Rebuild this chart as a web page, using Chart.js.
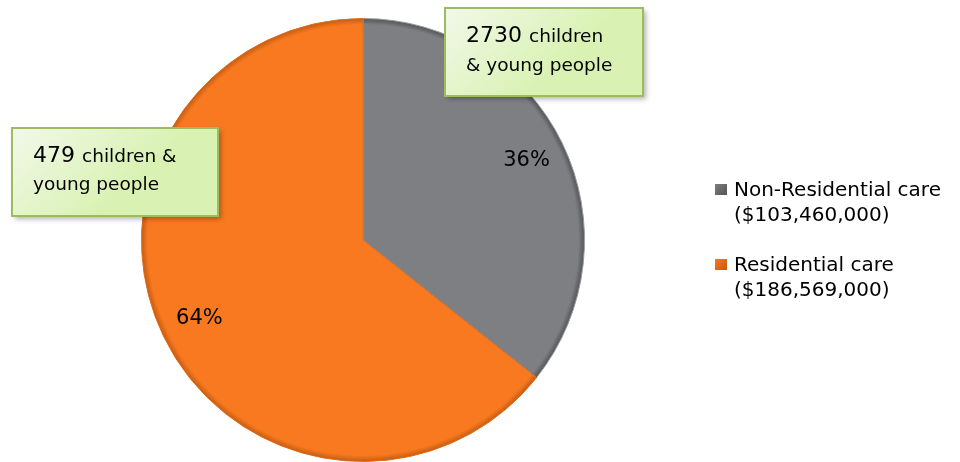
<!DOCTYPE html>
<html>
<head>
<meta charset="utf-8">
<script src="https://cdn.jsdelivr.net/npm/chart.js@4.4.0/dist/chart.umd.min.js"></script>
<style>
  html, body { margin: 0; padding: 0; background: #ffffff; }
  #wrap { width: 960px; height: 462px; }
</style>
</head>
<body>
<div id="wrap"><canvas id="c" width="960" height="462"></canvas></div>
<script>
// ---- data ----
const categories = ['Non-Residential care', 'Residential care'];
const amounts = [103460000, 186569000];
const amountLabels = ['($103,460,000)', '($186,569,000)'];
const childCounts = [2730, 479];
const calloutLines = [
  ['children', '& young people'],
  ['children &', 'young people']
];

// ---- style ----
const baseColors = ['#7e7f82', '#f8791f'];
const edgeColors = ['#505153', '#c05a12'];
const FONT = '"DejaVu Sans", Lato, sans-serif';

function sliceFill(ctx) {
  const chart = ctx.chart;
  const a = chart.chartArea;
  const i = ctx.dataIndex;
  if (!a) return baseColors[i];
  const cx = (a.left + a.right) / 2, cy = (a.top + a.bottom) / 2;
  const r = Math.min(a.right - a.left, a.bottom - a.top) / 2;
  const g = chart.ctx.createRadialGradient(cx, cy, 0, cx, cy, r);
  g.addColorStop(0, baseColors[i]);
  g.addColorStop(0.97, baseColors[i]);
  g.addColorStop(1, edgeColors[i]);
  return g;
}

// percentage labels on slices
const pctPlugin = {
  id: 'pct',
  afterDatasetsDraw(chart) {
    const ctx = chart.ctx;
    const meta = chart.getDatasetMeta(0);
    const data = chart.data.datasets[0].data;
    const total = data.reduce((s, v) => s + v, 0);
    ctx.save();
    ctx.font = '21px ' + FONT;
    ctx.fillStyle = '#000';
    ctx.textAlign = 'center';
    ctx.textBaseline = 'middle';
    meta.data.forEach((arc, i) => {
      const p = arc.getProps(['x', 'y', 'startAngle', 'endAngle', 'outerRadius'], true);
      const mid = (p.startAngle + p.endAngle) / 2;
      const rr = p.outerRadius * 0.82;
      const pct = Math.round(data[i] / total * 100) + '%';
      ctx.fillText(pct, p.x + Math.cos(mid) * rr, p.y + Math.sin(mid) * rr);
    });
    ctx.restore();
  }
};

// callout boxes
const calloutBoxes = [
  { x: 445, y: 8, w: 198, h: 88, tx: 466, b1: 42, b2: 71 },
  { x: 12, y: 128, w: 206, h: 88, tx: 33, b1: 162, b2: 190 }
];
const calloutPlugin = {
  id: 'callouts',
  afterDraw(chart) {
    const ctx = chart.ctx;
    calloutBoxes.forEach((b, i) => {
      ctx.save();
      ctx.shadowColor = 'rgba(0,0,0,0.3)';
      ctx.shadowBlur = 5;
      ctx.shadowOffsetX = 3;
      ctx.shadowOffsetY = 3;
      const g = ctx.createLinearGradient(b.x, b.y, b.x + b.w * 0.4, b.y + b.h);
      g.addColorStop(0, '#f2f8ea');
      g.addColorStop(1, '#d9f2b3');
      ctx.fillStyle = g;
      ctx.fillRect(b.x, b.y, b.w, b.h);
      ctx.restore();
      ctx.save();
      ctx.strokeStyle = '#9cbd5e';
      ctx.lineWidth = 2;
      ctx.strokeRect(b.x, b.y, b.w, b.h);
      ctx.fillStyle = '#000';
      ctx.textBaseline = 'alphabetic';
      ctx.textAlign = 'left';
      ctx.font = '22px ' + FONT;
      const num = String(childCounts[i]);
      ctx.fillText(num, b.tx, b.b1);
      const w = ctx.measureText(num + ' ').width;
      ctx.font = '18.5px ' + FONT;
      ctx.fillText(calloutLines[i][0], b.tx + w, b.b1);
      ctx.fillText(calloutLines[i][1], b.tx, b.b2);
      ctx.restore();
    });
  }
};

// legend
const legendPlugin = {
  id: 'customLegend',
  afterDraw(chart) {
    const ctx = chart.ctx;
    const x0 = 715, boxSize = 12, tx = 734;
    const rows = [196, 271];
    chart.data.labels.forEach((lab, i) => {
      const base = rows[i];
      ctx.save();
      const g = ctx.createLinearGradient(x0, base - 12, x0 + boxSize, base);
      g.addColorStop(0, baseColors[i]);
      g.addColorStop(1, edgeColors[i]);
      ctx.fillStyle = g;
      ctx.fillRect(x0, base - 12, boxSize, 11);
      ctx.fillStyle = '#000';
      ctx.font = '20px ' + FONT;
      ctx.textAlign = 'left';
      ctx.textBaseline = 'alphabetic';
      ctx.fillText(lab, tx, base);
      ctx.fillText(amountLabels[i], tx, base + 25);
      ctx.restore();
    });
  }
};

new Chart(document.getElementById('c'), {
  type: 'pie',
  data: {
    labels: categories,
    datasets: [{
      data: amounts,
      backgroundColor: sliceFill,
      borderColor: ['#9a9b9e', '#e06a15'],
      borderWidth: 1
    }]
  },
  options: {
    responsive: false,
    animation: false,
    layout: { padding: { left: 141, right: 375, top: 18, bottom: 0 } },
    plugins: {
      legend: { display: false },
      tooltip: { enabled: false }
    }
  },
  plugins: [pctPlugin, calloutPlugin, legendPlugin]
});
</script>
</body>
</html>
